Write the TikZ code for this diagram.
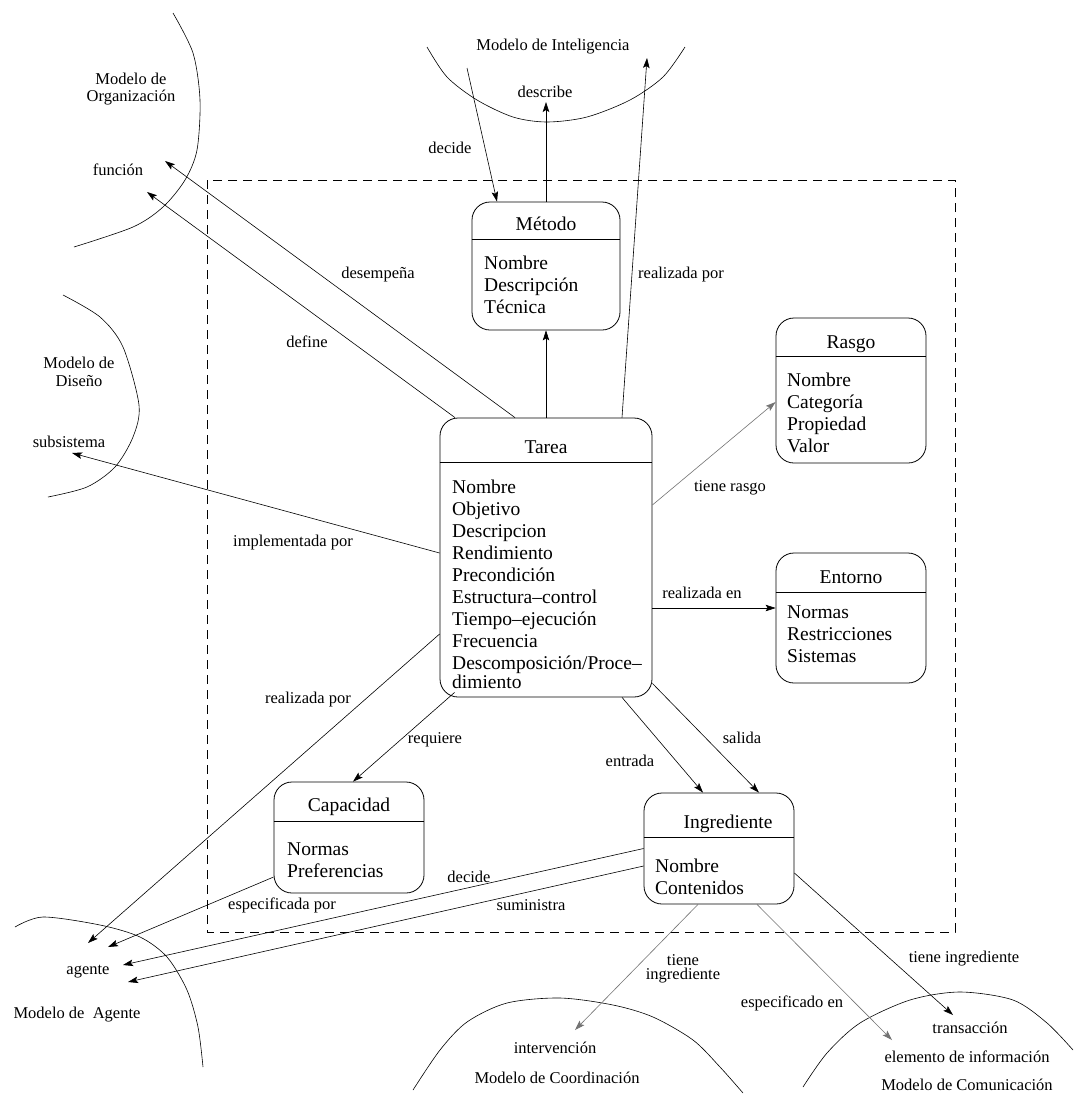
\documentclass[tikz,border=0pt]{standalone}
\usepackage{fontspec}
\setmainfont{Liberation Serif}
\usetikzlibrary{arrows.meta,calc}

\begin{document}
\begin{tikzpicture}[x=1pt,y=-1pt,
  boxtext/.style={font=\fontsize{19.5}{22}\selectfont, inner sep=0},
  lbl/.style={font=\fontsize{16.5}{17.5}\selectfont, inner sep=0, align=center},
  classbox/.style={draw, rounded corners=18pt, line width=0.8pt, inner sep=0},
  sep/.style={line width=0.8pt},
  conn/.style={line width=0.6pt, -{Stealth[length=10pt,width=6.5pt,inset=2pt]}},
  faint/.style={draw=black!55},
  region/.style={line width=0.6pt},
  frame/.style={line width=0.7pt, dash pattern=on 9pt off 6pt}
]
\useasboundingbox (0,0) rectangle (1074,1096);
\fill[white] (0,0) rectangle (1074,1096);

% ---------- boundary of the task model ----------
\draw[frame] (207,180) rectangle (955,932);

% ---------- neighbouring models ----------
\draw[region] plot[smooth] coordinates {(173,13) (193,53) (200,100) (197,150) (185,180) (163,207) (133,227) (74,247)};
\node[lbl] (orgname) at (131,89) {Modelo de\\Organización};
\node[lbl] (funcion) at (118,170) {función};

\draw[region] plot[smooth] coordinates {(63,295) (100,317) (123,347) (139,405) (133,437) (115,467) (87,487) (48,497)};
\node[lbl] (disname) at (79,372) {Modelo de\\Diseño};
\node[lbl] (subsis) at (69,442) {subsistema};

\draw[region] plot[smooth] coordinates {(427,47) (447,77) (477,100) (513,117) (547,122) (587,117) (630,100) (663,77) (685,47)};
\node[lbl] (intname) at (553,47) {Modelo de Inteligencia};
\node[lbl] (describe) at (545,92) {describe};

\draw[region] plot[smooth] coordinates {(15,927) (43,917) (100,925) (140,937) (167,957) (187,990) (198,1027) (203,1067)};
\node[lbl] (agente) at (88,972) {agente};
\node[lbl] (agname) at (77,1015) {Modelo de~ Agente};

\draw[region] plot[smooth] coordinates {(413,1090) (440,1050) (467,1022) (507,1003) (560,998) (613,1005) (653,1017) (693,1040) (720,1067) (743,1093)};
\node[lbl] (interv) at (555,1048) {intervención};
\node[lbl] (coordname) at (557,1078) {Modelo de Coordinación};

\draw[region] plot[smooth] coordinates {(803,1087) (827,1053) (860,1023) (910,1000) (960,992) (1013,1000) (1047,1023) (1073,1050)};
\node[lbl] (transac) at (970,1028) {transacción};
\node[lbl] (eleminfo) at (967,1057) {elemento de información};
\node[lbl] (comname) at (967,1085) {Modelo de Comunicación};

% ---------- class boxes ----------
% Metodo
\node[classbox, minimum width=148pt, minimum height=128pt] (metodo) at (546,266) {};
\draw[sep] ([yshift=-38pt]metodo.north west) -- ([yshift=-38pt]metodo.north east);
\node[boxtext, anchor=base] (metodotitle) at (546,230) {Método};
\node[boxtext, anchor=north west, align=left] (metodoitems) at (484,256) {Nombre\\Descripción\\Técnica};

% Tarea
\node[classbox, minimum width=212pt, minimum height=279pt] (tarea) at (546,557.5) {};
\draw[sep] ([yshift=-45pt]tarea.north west) -- ([yshift=-45pt]tarea.north east);
\node[boxtext, anchor=base] (tareatitle) at (546,453) {Tarea};
\node[boxtext, anchor=north west, align=left] (tareaitems) at (452,480)
  {Nombre\\Objetivo\\Descripcion\\Rendimiento\\Precondición\\Estructura–control\\Tiempo–ejecución\\Frecuencia\\Descomposición/Proce–\\[-3pt]dimiento};

% Rasgo
\node[classbox, minimum width=150pt, minimum height=145pt] (rasgo) at (851,390.5) {};
\draw[sep] ([yshift=-39pt]rasgo.north west) -- ([yshift=-39pt]rasgo.north east);
\node[boxtext, anchor=base] (rasgotitle) at (851,348) {Rasgo};
\node[boxtext, anchor=north west, align=left] (rasgoitems) at (787,373) {Nombre\\Categoría\\Propiedad\\Valor};

% Entorno
\node[classbox, minimum width=150pt, minimum height=130pt] (entorno) at (851,618) {};
\draw[sep] ([yshift=-40pt]entorno.north west) -- ([yshift=-40pt]entorno.north east);
\node[boxtext, anchor=base] (entornotitle) at (851,583) {Entorno};
\node[boxtext, anchor=north west, align=left] (entornoitems) at (787,606) {Normas\\Restricciones\\Sistemas};

% Capacidad
\node[classbox, minimum width=150pt, minimum height=111pt] (capacidad) at (349,837.5) {};
\draw[sep] ([yshift=-40pt]capacidad.north west) -- ([yshift=-40pt]capacidad.north east);
\node[boxtext, anchor=base] (capacidadtitle) at (349,811) {Capacidad};
\node[boxtext, anchor=north west, align=left] (capacidaditems) at (287,843) {Normas\\Preferencias};

% Ingrediente
\node[classbox, minimum width=150pt, minimum height=111pt] (ingrediente) at (719,848.5) {};
\draw[sep] ([yshift=-45pt]ingrediente.north west) -- ([yshift=-45pt]ingrediente.north east);
\node[boxtext, anchor=base] (ingredientetitle) at (728,828) {Ingrediente};
\node[boxtext, anchor=north west, align=left] (ingredienteitems) at (655,859) {Nombre\\Contenidos};

% ---------- free ends of the connectors ----------
\coordinate (funA) at (165,161);
\coordinate (funB) at (147,192);
\coordinate (subA) at (72,453);
\coordinate (decA) at (467,68);
\coordinate (desA) at (546,102);
\coordinate (intA) at (647,58);
\coordinate (ag1) at (88,943);
\coordinate (ag2) at (108,947);
\coordinate (ag3) at (123,965);
\coordinate (ag4) at (128,982);
\coordinate (intvA) at (575,1030);
\coordinate (eleA) at (892,1040);
\coordinate (traA) at (953,1015);

% ---------- connectors ----------
\draw[conn] ([xshift=-31pt]tarea.north) -- (funA);
\draw[conn] ([xshift=-91pt]tarea.north) -- (funB);
\draw[conn] ([yshift=4.5pt]tarea.west) -- (subA);
\draw[conn] (decA) -- ([xshift=-49pt]metodo.north);
\draw[conn] (metodo.north) -- (desA);
\draw[conn] (tarea.north) -- (metodo.south);
\draw[conn] ([xshift=76pt]tarea.north) -- (intA);
\draw[conn, faint] ([yshift=52.5pt]tarea.east) -- ([yshift=-11.5pt]rasgo.west);
\draw[conn] ([yshift=-50.5pt]tarea.east) -- ([yshift=10pt]entorno.west);
\draw[conn] ([yshift=-76.5pt]tarea.west) -- (ag1);
\draw[conn] ([xshift=15pt,yshift=5pt]tarea.south west) -- ([xshift=4pt]capacidad.north);
\draw[conn] ([xshift=76pt]tarea.south) -- ([xshift=-16pt]ingrediente.north);
\draw[conn] ([yshift=14pt]tarea.south east) -- ([xshift=40pt]ingrediente.north);
\draw[conn] ([yshift=-39.5pt]capacidad.west) -- (ag2);
\draw[conn] (ingrediente.west) -- (ag3);
\draw[conn] ([yshift=-17.5pt]ingrediente.west) -- (ag4);
\draw[conn, faint] ([xshift=-21pt]ingrediente.south) -- (intvA);
\draw[conn, faint] ([xshift=38pt]ingrediente.south) -- (eleA);
\draw[conn] ([yshift=-24.5pt]ingrediente.east) -- (traA);

% ---------- connector labels ----------
\node[lbl] (ldesempena) at (378,275) {desempeña};
\node[lbl] (ldefine) at (307,342) {define};
\node[lbl] (limpl) at (293,543) {implementada por};
\node[lbl] (ldecide) at (450,148) {decide};
\node[lbl] (lrealint) at (681,275) {realizada por};
\node[lbl] (lrasgo) at (730,488) {tiene rasgo};
\node[lbl] (lrealen) at (702,593) {realizada en};
\node[lbl] (lrealag) at (308,700) {realizada por};
\node[lbl] (lrequiere) at (435,740) {requiere};
\node[lbl] (lentrada) at (630,761) {entrada};
\node[lbl] (lsalida) at (742,738) {salida};
\node[lbl] (lespec) at (282,905) {especificada por};
\node[lbl] (ldecide2) at (469,877) {decide};
\node[lbl] (lsumin) at (531,905) {suministra};
\node[lbl] (ltieneA) at (683,969) {tiene\\[-3pt]ingrediente};
\node[lbl] (lespecen) at (792,1003) {especificado en};
\node[lbl] (ltieneB) at (964,959) {tiene ingrediente};
\end{tikzpicture}
\end{document}
